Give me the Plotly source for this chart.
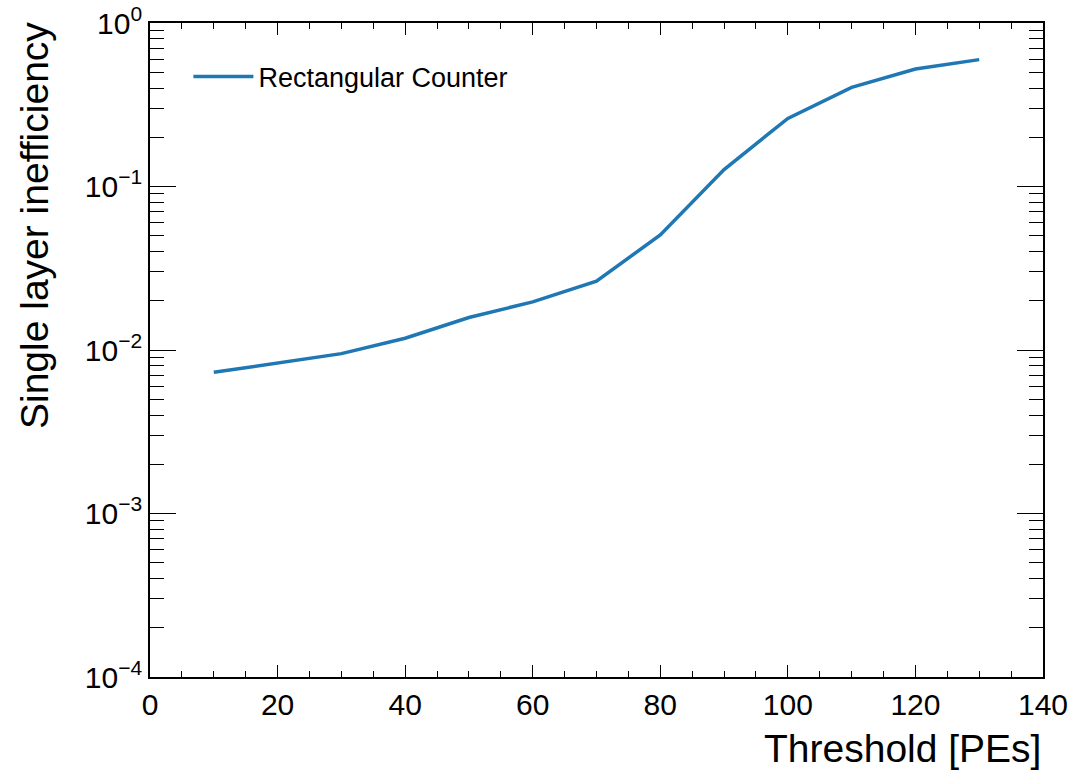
import plotly.graph_objects as go

# Threshold scan for the rectangular counter
threshold_pe = [10, 20, 30, 40, 50, 60, 70, 80, 90, 100, 110, 120, 130]
inefficiency = [0.0073, 0.0083, 0.0095, 0.0118, 0.0158, 0.0197, 0.0264,
                0.0505, 0.127, 0.261, 0.404, 0.523, 0.597]
series_name = "Rectangular Counter"

y_tick_vals = [1e-4, 1e-3, 1e-2, 1e-1, 1]
y_tick_text = ["10<sup>−4</sup>", "10<sup>−3</sup>", "10<sup>−2</sup>",
               "10<sup>−1</sup>", "10<sup>0</sup>"]
x_tick_vals = [0, 20, 40, 60, 80, 100, 120, 140]

FONT = "Liberation Sans, Arial, sans-serif"

fig = go.Figure()
fig.add_trace(go.Scatter(
    x=threshold_pe, y=inefficiency, mode="lines", name=series_name,
    line=dict(color="#1f77b4", width=3.5),
))

axis_common = dict(
    showline=True, linecolor="black", linewidth=1.8, mirror="ticks",
    ticks="inside", tickwidth=1.3, tickcolor="black",
    showgrid=False, zeroline=False, automargin=False,
    tickfont=dict(family=FONT, size=30, color="black"),
)

fig.update_xaxes(
    range=[0, 140], tickvals=x_tick_vals, ticklen=12,
    minor=dict(ticks="inside", ticklen=6, tickwidth=1, tickcolor="black", dtick=5),
    **axis_common,
)
fig.update_yaxes(
    type="log", range=[-4, 0], tickvals=y_tick_vals, ticktext=y_tick_text,
    ticklen=26,
    minor=dict(ticks="inside", ticklen=14, tickwidth=1, tickcolor="black",
               tickvals=[m * 10 ** e for e in range(-4, 0) for m in range(2, 10)]),
    **axis_common,
)

fig.add_annotation(
    text="Threshold [PEs]", xref="paper", yref="paper", x=1, y=0,
    xanchor="right", yanchor="top", yshift=-48, showarrow=False,
    font=dict(family=FONT, size=39, color="black"),
)
fig.add_annotation(
    text="Single layer inefficiency", xref="paper", yref="paper", x=0, y=1,
    xanchor="right", yanchor="top", xshift=-92, yshift=3, textangle=-90,
    showarrow=False,
    font=dict(family=FONT, size=39, color="black"),
)

fig.update_layout(
    width=1080, height=771,
    margin=dict(l=150, r=37, t=23, b=94),
    paper_bgcolor="white", plot_bgcolor="white",
    showlegend=True,
    legend=dict(x=0.043, y=0.955, xanchor="left", yanchor="top",
                bgcolor="rgba(0,0,0,0)",
                font=dict(family=FONT, size=27, color="black"),
                itemwidth=60),
)

fig.write_html("out.html")
